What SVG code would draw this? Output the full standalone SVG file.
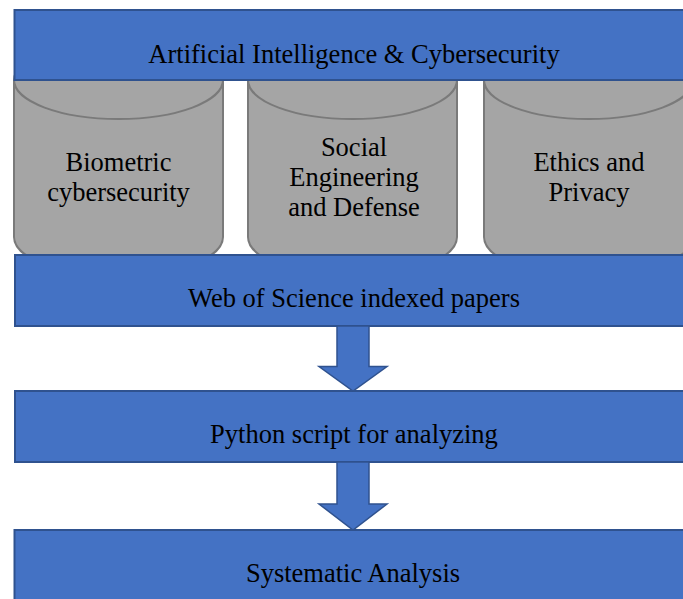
<svg xmlns="http://www.w3.org/2000/svg" width="683" height="599" viewBox="0 0 683 599">
  <defs>
    <style>
      .bar { fill: #4472C4; stroke: #2F528F; stroke-width: 2; }
      .cyl { fill: #A5A5A5; stroke: #7A7A7A; stroke-width: 2; }
      .cylTop { fill: none; stroke: #7A7A7A; stroke-width: 2; }
      .arrow { fill: #4472C4; stroke: #2F528F; stroke-width: 1.5; }
      .t { font-family: 'Liberation Serif', 'Tinos', 'Times New Roman', 'DejaVu Serif', serif; font-size: 26.5px; fill: #000; text-anchor: middle; }
    </style>
  </defs>
  <rect width="683" height="599" fill="#FFFFFF"/>

  <g id="cyl-biometric">
    <path class="cyl" d="M14,80 L14,237 A104.5,39 0 0 0 223,237 L223,80 A104.5,39 0 0 0 14,80 Z"/>
    <path class="cylTop" d="M14,80 A104.5,39 0 0 0 223,80"/>
    <text class="t" x="118.5" y="171">Biometric</text>
    <text class="t" x="118.5" y="201">cybersecurity</text>
  </g>
  <g id="cyl-social">
    <path class="cyl" d="M248,80 L248,237 A104.5,39 0 0 0 457,237 L457,80 A104.5,39 0 0 0 248,80 Z"/>
    <path class="cylTop" d="M248,80 A104.5,39 0 0 0 457,80"/>
    <text class="t" x="354" y="156">Social</text>
    <text class="t" x="354" y="186">Engineering</text>
    <text class="t" x="354" y="216">and Defense</text>
  </g>
  <g id="cyl-ethics">
    <path class="cyl" d="M484,80 L484,237 A104.5,39 0 0 0 693,237 L693,80 A104.5,39 0 0 0 484,80 Z"/>
    <path class="cylTop" d="M484,80 A104.5,39 0 0 0 693,80"/>
    <text class="t" x="589" y="171">Ethics and</text>
    <text class="t" x="589" y="201">Privacy</text>
  </g>

  <g id="top-bar">
    <rect class="bar" x="14.5" y="10" width="690" height="70"/>
    <text class="t" x="354" y="63">Artificial Intelligence &amp; Cybersecurity</text>
  </g>
  <g id="wos-bar">
    <rect class="bar" x="15" y="255" width="690" height="71"/>
    <text class="t" x="354" y="307">Web of Science indexed papers</text>
  </g>
  <g id="python-bar">
    <rect class="bar" x="15" y="391" width="690" height="71"/>
    <text class="t" x="354" y="443">Python script for analyzing</text>
  </g>
  <g id="analysis-bar">
    <rect class="bar" x="14.5" y="530" width="690" height="80"/>
    <text class="t" x="353" y="582">Systematic Analysis</text>
  </g>

  <g id="connectors">
    <path class="arrow" d="M337,326 L369,326 L369,366.5 L387,366.5 L353,391 L319,366.5 L337,366.5 Z"/>
    <path class="arrow" d="M337,462 L369,462 L369,504 L387,504 L353,530 L319,504 L337,504 Z"/>
  </g>
</svg>
